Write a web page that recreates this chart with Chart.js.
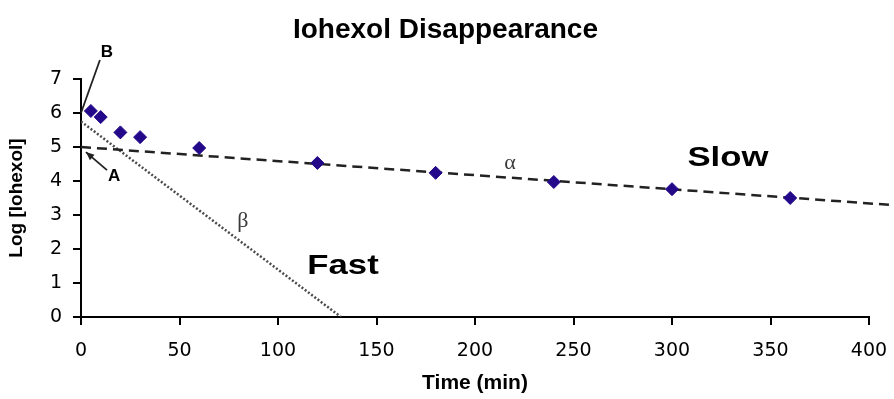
<!DOCTYPE html>
<html>
<head>
<meta charset="utf-8">
<title>Iohexol Disappearance</title>
<script src="https://cdn.jsdelivr.net/npm/chart.js@4.4.1/dist/chart.umd.min.js"></script>
<style>
    html, body { margin: 0; padding: 0; background: #ffffff; }
    #wrap { width: 894px; height: 399px; }
</style>
</head>
<body>
<div id="wrap"><canvas id="iohexolChart" width="894" height="399"></canvas></div>
<script>
// measured samples
const sampleTimes = [5, 10, 20, 30, 60, 120, 180, 240, 300, 360];
const sampleLogConc = [6.06, 5.88, 5.43, 5.29, 4.97, 4.53, 4.24, 3.97, 3.76, 3.50];

// slow (alpha) phase fit line, runs past the end of the axis
const alphaTimes = [0, 415];
const alphaLogConc = [5.0, 3.28];

// fast (beta) phase line
const betaTimes = [0, 132];
const betaLogConc = [5.75, 0];

const xTicks = [0, 50, 100, 150, 200, 250, 300, 350, 400];
const yTicks = [0, 1, 2, 3, 4, 5, 6, 7];

const chartTitle = 'Iohexol Disappearance';

function toPoints(xs, ys) {
    return xs.map((x, i) => ({ x: x, y: ys[i] }));
}

// title, text labels and arrows (labels placed in data units)
const labelsPlugin = {
    id: 'labels',
    afterDatasetsDraw(chart) {
        const ctx = chart.ctx;
        const xs = chart.scales.x;
        const ys = chart.scales.y;
        const px = v => xs.getPixelForValue(v);
        const py = v => ys.getPixelForValue(v);

        ctx.save();
        ctx.textAlign = 'center';
        ctx.textBaseline = 'middle';

        // title sits a bit right of the canvas centre, as in the original
        ctx.fillStyle = '#000';
        ctx.font = 'bold 28px "Liberation Sans", Arial, sans-serif';
        ctx.fillText(chartTitle, px(185), 30);

        // B pointer
        ctx.strokeStyle = '#222';
        ctx.lineWidth = 1.8;
        ctx.beginPath();
        ctx.moveTo(px(9.6), py(7.56));
        ctx.lineTo(px(0), py(6));
        ctx.stroke();

        // A arrow
        const ax0 = px(13.2), ay0 = py(4.32), ax1 = px(2.5), ay1 = py(4.85);
        ctx.beginPath();
        ctx.moveTo(ax0, ay0);
        ctx.lineTo(ax1, ay1);
        ctx.stroke();
        const ang = Math.atan2(ay1 - ay0, ax1 - ax0);
        ctx.fillStyle = '#222';
        ctx.beginPath();
        ctx.moveTo(ax1, ay1);
        ctx.lineTo(ax1 - 9 * Math.cos(ang - 0.4), ay1 - 9 * Math.sin(ang - 0.4));
        ctx.lineTo(ax1 - 9 * Math.cos(ang + 0.4), ay1 - 9 * Math.sin(ang + 0.4));
        ctx.closePath();
        ctx.fill();

        ctx.fillStyle = '#000';
        ctx.font = 'bold 17px "Liberation Sans", Arial, sans-serif';
        ctx.fillText('B', px(13.2), py(7.79));
        ctx.fillText('A', px(16.8), py(4.15));

        ctx.fillStyle = '#3a3a3a';
        ctx.font = '22px "Liberation Serif", "Times New Roman", serif';
        ctx.fillText('α', px(217.8), py(4.53));
        ctx.fillText('β', px(82.2), py(2.82));

        ctx.fillStyle = '#000';
        ctx.font = 'bold 28px "Liberation Sans", Arial, sans-serif';
        drawWide(ctx, 'Fast', px(133), py(1.5));
        drawWide(ctx, 'Slow', px(328.4), py(4.68));
        ctx.restore();
    }
};

function drawWide(ctx, text, x, y) {
    ctx.save();
    ctx.translate(x, y);
    ctx.scale(1.24, 1);
    ctx.fillText(text, 0, 0);
    ctx.restore();
}

function loadChart() {
    const ctx = document.getElementById('iohexolChart').getContext('2d');
    const tickFont = { family: '"DejaVu Sans", sans-serif', size: 19 };

    new Chart(ctx, {
        type: 'scatter',
        data: {
            datasets: [{
                label: 'Iohexol',
                data: toPoints(sampleTimes, sampleLogConc),
                pointStyle: 'rectRot',
                pointRadius: 6.5,
                backgroundColor: '#24088a',
                borderColor: '#24088a',
                showLine: false,
                order: 0
            }, {
                label: 'Slow (alpha)',
                data: toPoints(alphaTimes, alphaLogConc),
                showLine: true,
                borderColor: '#222222',
                borderWidth: 2.5,
                borderDash: [10, 6],
                pointRadius: 0,
                clip: false,
                order: 1
            }, {
                label: 'Fast (beta)',
                data: toPoints(betaTimes, betaLogConc),
                showLine: true,
                borderColor: '#4a4a4a',
                borderWidth: 2.5,
                borderDash: [2, 2],
                pointRadius: 0,
                order: 2
            }]
        },
        options: {
            responsive: false,
            animation: false,
            layout: { padding: { top: 79, right: 25, bottom: 0, left: 0 } },
            plugins: {
                legend: { display: false },
                tooltip: { enabled: false },
                title: { display: false }
            },
            scales: {
                x: {
                    type: 'linear',
                    min: 0,
                    max: 400,
                    afterFit(scale) {
                        scale.height = 82;
                        scale.paddingLeft = 0;
                        scale.paddingRight = 0;
                    },
                    afterBuildTicks(scale) { scale.ticks = xTicks.map(v => ({ value: v })); },
                    ticks: { color: '#000', font: tickFont, padding: 15, maxRotation: 0 },
                    grid: { drawOnChartArea: false, drawTicks: true, tickLength: 8, color: '#000', lineWidth: 2 },
                    border: { color: '#000', width: 2 },
                    title: {
                        display: true,
                        text: 'Time (min)',
                        color: '#000',
                        font: { family: '"Liberation Sans", Arial, sans-serif', size: 21, weight: 'bold' },
                        padding: { top: 0, bottom: 3 }
                    }
                },
                y: {
                    type: 'linear',
                    min: 0,
                    max: 7,
                    afterFit(scale) { scale.width = 81; },
                    afterBuildTicks(scale) { scale.ticks = yTicks.map(v => ({ value: v })); },
                    ticks: { color: '#000', font: tickFont, padding: 11 },
                    grid: { drawOnChartArea: false, drawTicks: true, tickLength: 8, color: '#000', lineWidth: 2 },
                    border: { color: '#000', width: 2 },
                    title: {
                        display: true,
                        text: 'Log [Iohexol]',
                        color: '#000',
                        font: { family: '"Liberation Sans", Arial, sans-serif', size: 19, weight: 'bold' },
                        padding: { top: 5, bottom: 0 }
                    }
                }
            }
        },
        plugins: [labelsPlugin]
    });
}

window.onload = function() {
    loadChart();
};
</script>
</body>
</html>
